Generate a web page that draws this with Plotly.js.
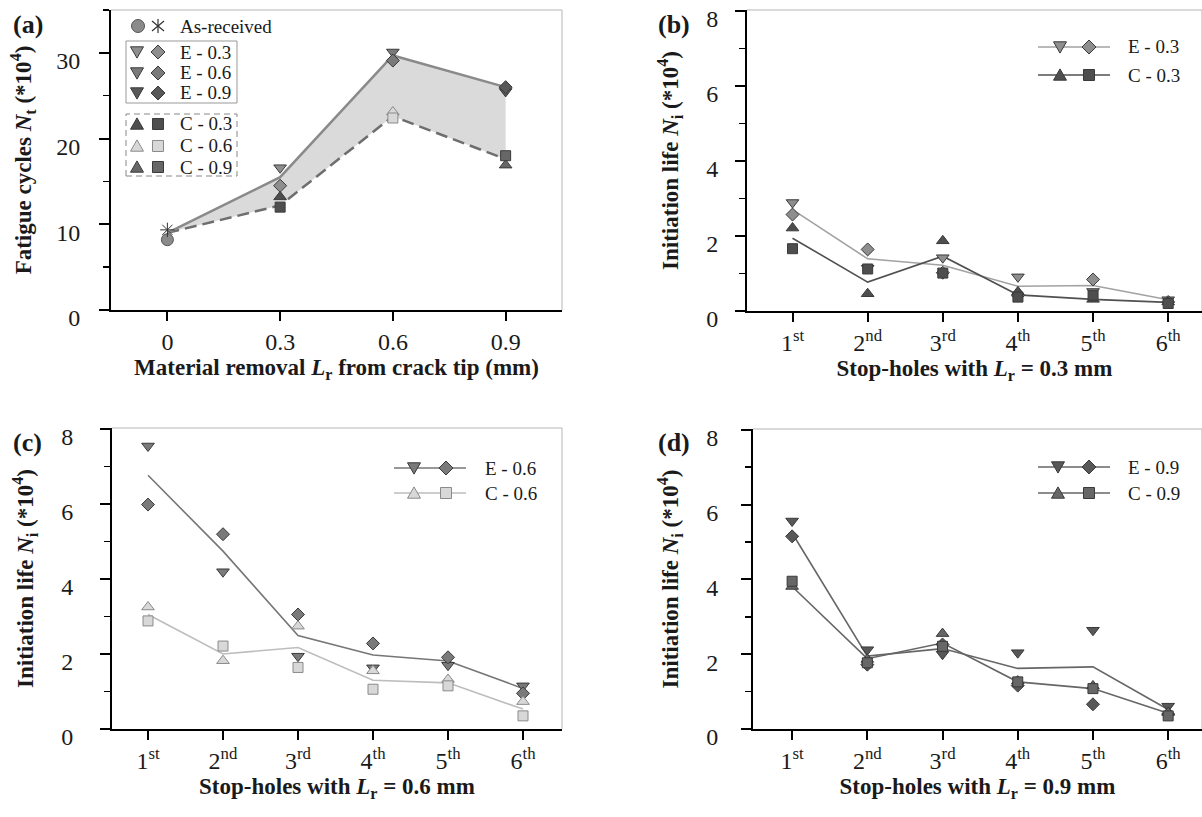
<!DOCTYPE html>
<html><head><meta charset="utf-8">
<script src="https://cdn.plot.ly/plotly-3.0.1.min.js"></script>
<style>html,body{margin:0;padding:0;background:#fff}#chart{width:1202px;height:817px}</style>
</head><body><div id="chart"></div>
<script>
// ---------------- DATA ----------------
// (a) total fatigue cycles (x10^4) vs material removal Lr (mm)
const removal = [0, 0.3, 0.6, 0.9];
const removalLabels = ['0', '0.3', '0.6', '0.9'];
const removalLevels = [0.3, 0.6, 0.9];
const asReceivedX = [0];
const asReceivedCircle = [8.2];
const asReceivedStar = [9.35];
const meanE = [9.0, 15.5, 29.7, 26.0];
const meanC = [9.0, 12.2, 22.6, 17.6];
const fatigueETri = [16.6, 30.1, 25.5];
const fatigueEDia = [14.5, 29.1, 26.0];
const fatigueCTri = [13.2, 23.1, 16.9];
const fatigueCSq  = [12.0, 22.4, 18.0];

// (b)-(d) initiation life (x10^4) per stop-hole
const stopHoles = ['1st', '2nd', '3rd', '4th', '5th', '6th'];
const stopHoleLabels = ['1<sup>st</sup>', '2<sup>nd</sup>', '3<sup>rd</sup>', '4<sup>th</sup>', '5<sup>th</sup>', '6<sup>th</sup>'];

const e03Tri  = [2.89, 1.14, 1.42, 0.91, 0.52, 0.30];
const e03Dia  = [2.57, 1.64, 1.02, 0.41, 0.84, 0.24];
const e03Mean = [2.70, 1.39, 1.22, 0.66, 0.68, 0.30];
const c03Tri  = [2.21, 0.46, 1.87, 0.51, 0.31, 0.24];
const c03Sq   = [1.66, 1.12, 1.01, 0.37, 0.42, 0.20];
const c03Mean = [1.94, 0.77, 1.46, 0.43, 0.31, 0.23];

const e06Tri  = [7.54, 4.19, 1.94, 1.63, 1.70, 1.15];
const e06Dia  = [5.98, 5.19, 3.05, 2.28, 1.91, 0.95];
const e06Mean = [6.76, 4.74, 2.49, 1.97, 1.81, 1.08];
const c06Tri  = [3.25, 1.82, 2.74, 1.55, 1.32, 0.73];
const c06Sq   = [2.88, 2.21, 1.64, 1.06, 1.15, 0.35];
const c06Mean = [3.05, 2.00, 2.17, 1.30, 1.23, 0.53];

const e09Tri  = [5.56, 2.12, 2.00, 2.04, 2.64, 0.61];
const e09Dia  = [5.15, 1.72, 2.26, 1.16, 0.66, 0.40];
const e09Mean = [5.24, 1.95, 2.15, 1.62, 1.66, 0.52];
const c09Tri  = [3.81, 1.86, 2.55, 1.28, 1.15, 0.44];
const c09Sq   = [3.95, 1.77, 2.21, 1.26, 1.08, 0.35];
const c09Mean = [3.81, 1.88, 2.30, 1.26, 1.08, 0.42];

// ---------------- STYLE ----------------
const W = 1202, H = 817;
const SERIF = 'Liberation Serif';
const INK = '#1a1a1a';
const col = {
  e03: '#8e8e8e', e06: '#7a7a7a', e09: '#585858',
  c03: '#4e4e4e', c06: '#d8d8d8', c09: '#676767'
};
const edge = '#3a3a3a', edgeLight = '#8a8a8a';

function mk(x, y, xa, ya, symbol, size, color, lineColor, name) {
  return { type: 'scatter', mode: 'markers', x, y, xaxis: xa, yaxis: ya, name, showlegend: false,
    marker: { symbol, size, color, line: { color: lineColor, width: 1 } }, hoverinfo: 'skip' };
}
function ln(x, y, xa, ya, color, width, name, dash) {
  return { type: 'scatter', mode: 'lines', x, y, xaxis: xa, yaxis: ya, name, showlegend: false,
    line: { color, width, dash: dash || 'solid' }, hoverinfo: 'skip' };
}

const traces = [];
// (a)
traces.push(ln(removal, meanC, 'x', 'y', '#6e6e6e', 2.5, 'C mean', '12px,6px'));
traces.push(Object.assign(ln(removal, meanE, 'x', 'y', '#8a8a8a', 2.5, 'E mean'), { fill: 'tonexty', fillcolor: 'rgba(212,212,212,0.85)' }));
traces.push(mk(asReceivedX, asReceivedCircle, 'x', 'y', 'circle', 12, '#8a8a8a', '#555', 'As-received'));
traces.push(mk(asReceivedX, asReceivedStar, 'x', 'y', 'asterisk-open', 12, '#333', '#333', 'As-received *'));
traces.push(mk(removalLevels, fatigueETri, 'x', 'y', 'triangle-down', 11, [col.e03, col.e06, col.e09], edge, 'E tri'));
traces.push(mk(removalLevels, fatigueEDia, 'x', 'y', 'diamond', 10, [col.e03, col.e06, col.e09], edge, 'E dia'));
traces.push(mk(removalLevels, fatigueCTri, 'x', 'y', 'triangle-up', 11, [col.c03, col.c06, col.c09], [edge, edgeLight, edge], 'C tri'));
traces.push(mk(removalLevels, fatigueCSq, 'x', 'y', 'square', 10, [col.c03, col.c06, col.c09], [edge, edgeLight, edge], 'C sq'));
// (b)
traces.push(ln(stopHoles, e03Mean, 'x2', 'y2', '#a2a2a2', 1.6, 'E - 0.3'));
traces.push(ln(stopHoles, c03Mean, 'x2', 'y2', '#505050', 1.6, 'C - 0.3'));
traces.push(mk(stopHoles, e03Tri, 'x2', 'y2', 'triangle-down', 11, col.e03, edge, 'E-0.3 tri'));
traces.push(mk(stopHoles, e03Dia, 'x2', 'y2', 'diamond', 10, col.e03, edge, 'E-0.3 dia'));
traces.push(mk(stopHoles, c03Tri, 'x2', 'y2', 'triangle-up', 11, col.c03, edge, 'C-0.3 tri'));
traces.push(mk(stopHoles, c03Sq, 'x2', 'y2', 'square', 10, col.c03, edge, 'C-0.3 sq'));
// (c)
traces.push(ln(stopHoles, e06Mean, 'x3', 'y3', '#767676', 1.6, 'E - 0.6'));
traces.push(ln(stopHoles, c06Mean, 'x3', 'y3', '#bdbdbd', 1.6, 'C - 0.6'));
traces.push(mk(stopHoles, e06Tri, 'x3', 'y3', 'triangle-down', 11, col.e06, edge, 'E-0.6 tri'));
traces.push(mk(stopHoles, e06Dia, 'x3', 'y3', 'diamond', 10, col.e06, edge, 'E-0.6 dia'));
traces.push(mk(stopHoles, c06Tri, 'x3', 'y3', 'triangle-up', 11, col.c06, edgeLight, 'C-0.6 tri'));
traces.push(mk(stopHoles, c06Sq, 'x3', 'y3', 'square', 10, col.c06, edgeLight, 'C-0.6 sq'));
// (d)
traces.push(ln(stopHoles, e09Mean, 'x4', 'y4', '#666', 1.6, 'E - 0.9'));
traces.push(ln(stopHoles, c09Mean, 'x4', 'y4', '#666', 1.6, 'C - 0.9'));
traces.push(mk(stopHoles, e09Tri, 'x4', 'y4', 'triangle-down', 11, col.e09, edge, 'E-0.9 tri'));
traces.push(mk(stopHoles, e09Dia, 'x4', 'y4', 'diamond', 10, col.e09, edge, 'E-0.9 dia'));
traces.push(mk(stopHoles, c09Tri, 'x4', 'y4', 'triangle-up', 11, col.c09, edge, 'C-0.9 tri'));
traces.push(mk(stopHoles, c09Sq, 'x4', 'y4', 'square', 10, col.c09, edge, 'C-0.9 sq'));

// ---------------- AXES ----------------
const fx = v => v / W, fy = v => 1 - v / H;
const tickFont = { family: SERIF, size: 24, color: INK };
const titleFont = { family: SERIF, size: 23, color: INK };

function xAxis(domain, anchor, extra) {
  return Object.assign({
    domain, anchor, showgrid: false, zeroline: false, showline: true, linecolor: '#000', linewidth: 2,
    ticks: 'outside', ticklen: 9, tickwidth: 2, tickcolor: '#000', tickfont: tickFont,
    ticklabelstandoff: 0, fixedrange: true
  }, extra);
}
function yAxis(domain, anchor, extra) {
  return Object.assign({
    domain, anchor, showgrid: false, zeroline: false, showline: true, linecolor: '#000', linewidth: 2,
    ticks: 'outside', ticklen: 10, tickwidth: 2, tickcolor: '#000', tickfont: tickFont,
    ticklabelshift: 8, fixedrange: true,
    minor: { ticks: 'outside', ticklen: 6, tickwidth: 1.5, tickcolor: '#000' }
  }, extra);
}
const yTitleInit = '<b>Initiation life <i>N</i><sub>i</sub> (*10<sup>4</sup>)</b>';

const layout = {
  width: W, height: H, margin: { l: 0, r: 0, t: 0, b: 0 },
  paper_bgcolor: '#fff', plot_bgcolor: 'rgba(0,0,0,0)', showlegend: false,
  font: { family: SERIF, color: INK },
  xaxis: xAxis([fx(111), fx(562)], 'y', {
    range: [-0.15, 1.05], tickmode: 'array', tickvals: removal, ticktext: removalLabels,
    title: { text: '<b>Material removal <i>L</i><sub>r</sub> from crack tip (mm)</b>', font: titleFont, standoff: 0 }
  }),
  yaxis: yAxis([fy(310), fy(10)], 'x', {
    range: [0, 35], tickmode: 'linear', tick0: 0, dtick: 10, ticklabelstandoff: 14,
    minor: { dtick: 5, ticks: 'outside', ticklen: 6, tickwidth: 1.5, tickcolor: '#000' },
    title: { text: '<b>Fatigue cycles <i>N</i><sub>t</sub> (*10<sup>4</sup>)</b>', font: titleFont, standoff: 18 }
  }),
  xaxis2: xAxis([fx(747), 1], 'y2', {
    type: 'category', categoryarray: stopHoles, range: [-0.606, 5.45],
    tickmode: 'array', tickvals: stopHoles, ticktext: stopHoleLabels,
    title: { text: '<b>Stop-holes with <i>L</i><sub>r</sub> = 0.3 mm</b>', font: titleFont, standoff: 4 }
  }),
  yaxis2: yAxis([fy(311), fy(10)], 'x2', {
    range: [0, 8.02], tickmode: 'linear', tick0: 0, dtick: 2, ticklabelstandoff: 12,
    minor: { dtick: 1, ticks: 'outside', ticklen: 6, tickwidth: 1.5, tickcolor: '#000' },
    title: { text: yTitleInit, font: titleFont, standoff: 21 }
  }),
  xaxis3: xAxis([fx(112), fx(562)], 'y3', {
    type: 'category', categoryarray: stopHoles, range: [-0.48, 5.52],
    tickmode: 'array', tickvals: stopHoles, ticktext: stopHoleLabels,
    title: { text: '<b>Stop-holes with <i>L</i><sub>r</sub> = 0.6 mm</b>', font: titleFont, standoff: 4 }
  }),
  yaxis3: yAxis([fy(729), fy(428)], 'x3', {
    range: [0, 8.02], tickmode: 'linear', tick0: 0, dtick: 2, ticklabelstandoff: 22,
    minor: { dtick: 1, ticks: 'outside', ticklen: 6, tickwidth: 1.5, tickcolor: '#000' },
    title: { text: yTitleInit, font: titleFont, standoff: 21 }
  }),
  xaxis4: xAxis([fx(753), 1], 'y4', {
    type: 'category', categoryarray: stopHoles, range: [-0.52, 5.45],
    tickmode: 'array', tickvals: stopHoles, ticktext: stopHoleLabels,
    title: { text: '<b>Stop-holes with <i>L</i><sub>r</sub> = 0.9 mm</b>', font: titleFont, standoff: 4 }
  }),
  yaxis4: yAxis([fy(729), fy(429)], 'x4', {
    range: [0, 8.02], tickmode: 'linear', tick0: 0, dtick: 2, ticklabelstandoff: 18,
    minor: { dtick: 1, ticks: 'outside', ticklen: 6, tickwidth: 1.5, tickcolor: '#000' },
    title: { text: yTitleInit, font: titleFont, standoff: 21 }
  }),
  shapes: [], annotations: []
};

// light top / right frame
[['x', 'y'], ['x2', 'y2'], ['x3', 'y3'], ['x4', 'y4']].forEach(([xa, ya]) => {
  const base = { type: 'line', xref: xa + ' domain', yref: ya + ' domain', line: { color: '#b5b5b5', width: 1 }, layer: 'below' };
  layout.shapes.push(Object.assign({}, base, { x0: 0, x1: 1, y0: 1, y1: 1 }));
  layout.shapes.push(Object.assign({}, base, { x0: 1, x1: 1, y0: 0, y1: 1 }));
});

// ---------------- LEGENDS (drawn glyphs) ----------------
const P = (x, y) => fx(x).toFixed(5) + ',' + fy(y).toFixed(5);
function poly(pts) { return 'M' + pts.map(p => P(p[0], p[1])).join('L') + 'Z'; }
function glyph(kind, cx, cy, s, fill, stroke) {
  let path;
  if (kind === 'tdown') path = poly([[cx - s / 2, cy - s * 0.4], [cx + s / 2, cy - s * 0.4], [cx, cy + s * 0.47]]);
  else if (kind === 'tup') path = poly([[cx - s / 2, cy + s * 0.4], [cx + s / 2, cy + s * 0.4], [cx, cy - s * 0.47]]);
  else if (kind === 'dia') path = poly([[cx, cy - s / 2], [cx + s / 2, cy], [cx, cy + s / 2], [cx - s / 2, cy]]);
  else if (kind === 'sq') path = poly([[cx - s / 2, cy - s / 2], [cx + s / 2, cy - s / 2], [cx + s / 2, cy + s / 2], [cx - s / 2, cy + s / 2]]);
  if (kind === 'circle') {
    layout.shapes.push({ type: 'circle', xref: 'paper', yref: 'paper', x0: fx(cx - s / 2), x1: fx(cx + s / 2), y0: fy(cy + s / 2), y1: fy(cy - s / 2), fillcolor: fill, line: { color: stroke, width: 1 } });
    return;
  }
  layout.shapes.push({ type: 'path', xref: 'paper', yref: 'paper', path, fillcolor: fill, line: { color: stroke, width: 1 } });
}
function segment(x0, y0, x1, y1, color, width, dash) {
  layout.shapes.push({ type: 'line', xref: 'paper', yref: 'paper', x0: fx(x0), y0: fy(y0), x1: fx(x1), y1: fy(y1), line: { color, width, dash: dash || 'solid' } });
}
function label(text, x, y, size, bold, anchor) {
  layout.annotations.push({ xref: 'paper', yref: 'paper', x: fx(x), y: fy(y), xanchor: anchor || 'left', yanchor: 'middle', showarrow: false,
    text: bold ? '<b>' + text + '</b>' : text, font: { family: SERIF, size, color: INK } });
}

// (a) legend
glyph('circle', 138, 26, 13, '#8a8a8a', '#555');
segment(158, 19, 158, 33, '#333', 1.2);
segment(152, 21, 164, 31, '#333', 1.2);
segment(152, 31, 164, 21, '#333', 1.2);
label('As-received', 178, 26, 19);
layout.shapes.push({ type: 'rect', xref: 'paper', yref: 'paper', x0: fx(126), x1: fx(237), y0: fy(103), y1: fy(41), line: { color: '#999', width: 1 } });
[['E - 0.3', 52, col.e03], ['E - 0.6', 73, col.e06], ['E - 0.9', 93, col.e09]].forEach(([t, y, c]) => {
  glyph('tdown', 137, y, 13, c, edge); glyph('dia', 158, y, 14, c, edge); label(t, 178, y, 19);
});
layout.shapes.push({ type: 'rect', xref: 'paper', yref: 'paper', x0: fx(126), x1: fx(237), y0: fy(176), y1: fy(114), line: { color: '#888', width: 1, dash: '6px,4px' } });
[['C - 0.3', 124, col.c03, edge], ['C - 0.6', 146, col.c06, edgeLight], ['C - 0.9', 167, col.c09, edge]].forEach(([t, y, c, e]) => {
  glyph('tup', 137, y, 13, c, e); glyph('sq', 158, y, 11, c, e); label(t, 178, y, 19);
});

// (b)-(d) legends
function pairLegend(x0, x1, xt, xd, xtxt, y, lineColor, kindA, kindB, fill, stroke, text) {
  segment(x0, y, x1, y, lineColor, 1.5);
  glyph(kindA, xt, y, 13, fill, stroke);
  glyph(kindB, xd, y, kindB === 'sq' ? 11 : 14, fill, stroke);
  label(text, xtxt, y, 19);
}
pairLegend(1038, 1110, 1060, 1089, 1126, 47, '#a2a2a2', 'tdown', 'dia', col.e03, edge, 'E - 0.3');
pairLegend(1038, 1110, 1060, 1089, 1126, 75, '#505050', 'tup', 'sq', col.c03, edge, 'C - 0.3');
pairLegend(394, 466, 414, 446, 483, 468, '#767676', 'tdown', 'dia', col.e06, edge, 'E - 0.6');
pairLegend(394, 466, 414, 446, 483, 493, '#bdbdbd', 'tup', 'sq', col.c06, edgeLight, 'C - 0.6');
pairLegend(1038, 1110, 1058, 1089, 1126, 467, '#666', 'tdown', 'dia', col.e09, edge, 'E - 0.9');
pairLegend(1038, 1110, 1058, 1089, 1126, 493, '#666', 'tup', 'sq', col.c09, edge, 'C - 0.9');

// panel letters
label('(a)', 28, 25, 26, true, 'center');
label('(b)', 674, 24, 26, true, 'center');
label('(c)', 27, 442, 26, true, 'center');
label('(d)', 674, 442, 26, true, 'center');

Plotly.newPlot('chart', traces, layout, { staticPlot: true, displayModeBar: false });
</script>
</body></html>
